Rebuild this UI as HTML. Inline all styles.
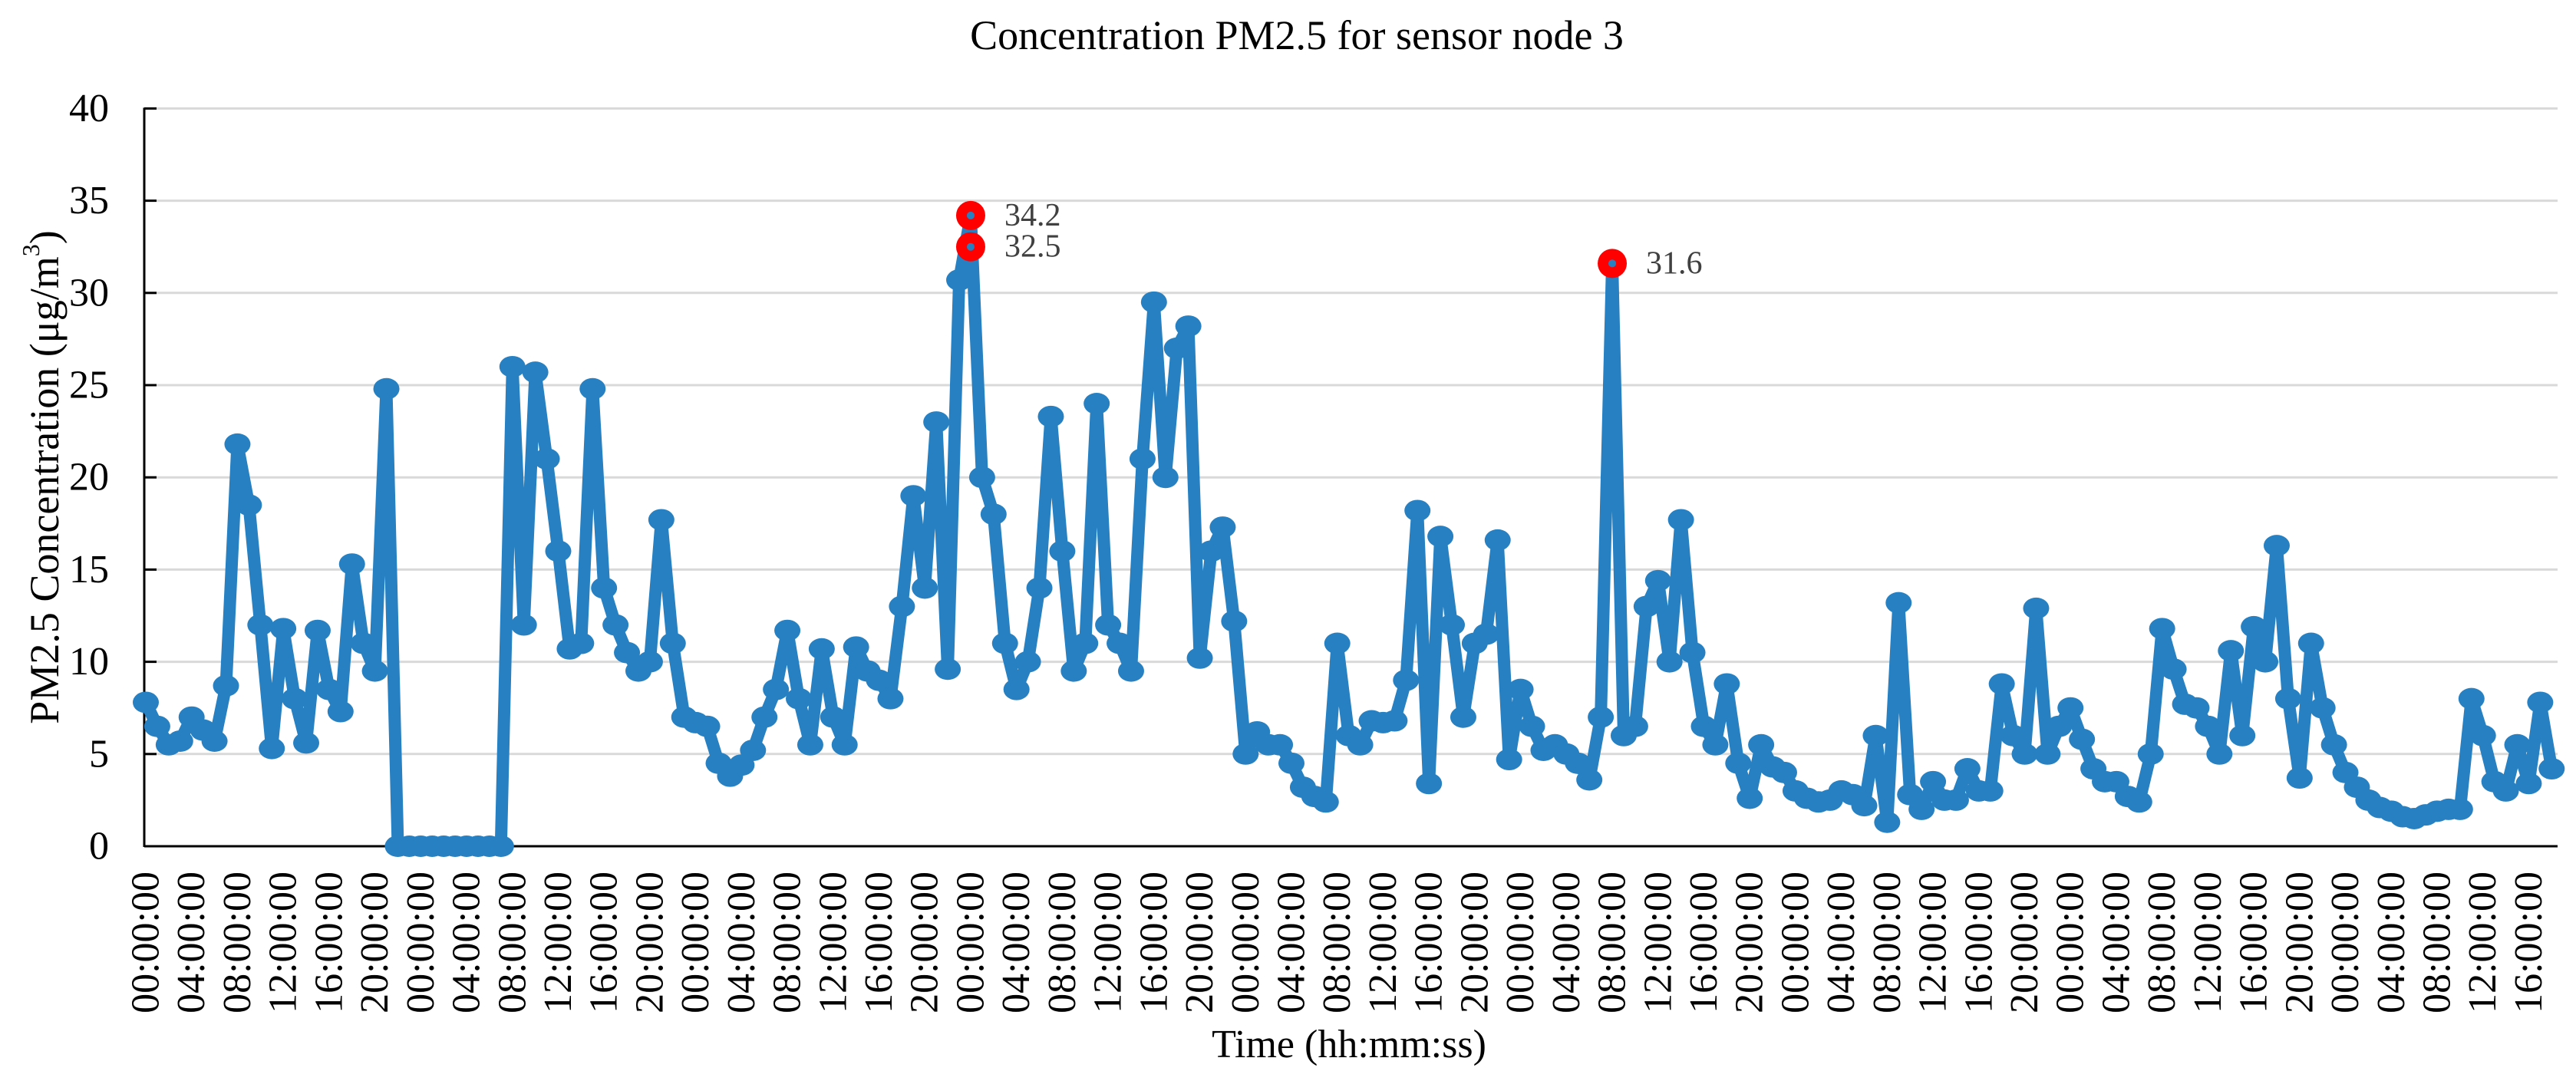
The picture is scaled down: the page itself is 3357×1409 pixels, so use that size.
<!DOCTYPE html>
<html><head><meta charset="utf-8"><style>
html,body{margin:0;padding:0;background:#fff;}
svg{display:block;font-family:"Liberation Serif",serif;}
</style></head><body>
<svg id="chart" width="3357" height="1409" viewBox="0 0 3357 1409" xmlns="http://www.w3.org/2000/svg">
<text x="1690" y="64" font-size="54" text-anchor="middle" fill="#000">Concentration PM2.5 for sensor node 3</text>
<g id="grid"></g>
<g id="yaxis"></g>
<g id="xaxis"></g>
<g id="series"></g>
<g id="highlights"></g>
<text transform="translate(58,622) rotate(-90)" font-size="54" text-anchor="middle" dominant-baseline="central" fill="#000">PM2.5 Concentration (μg/m<tspan baseline-shift="super" font-size="32">3</tspan>)</text>
<text x="1758" y="1378" font-size="52" text-anchor="middle" fill="#000">Time (hh:mm:ss)</text>
</svg>
<script>
const values = [7.8,6.5,5.5,5.7,7.0,6.3,5.7,8.7,21.8,18.5,12.0,5.3,11.8,8.0,5.6,11.7,8.5,7.3,15.3,11.0,9.5,24.8,0,0,0,0,0,0,0,0,0,0,26.0,12.0,25.7,21.0,16.0,10.7,11.0,24.8,14.0,12.0,10.5,9.5,10.0,17.7,11.0,7.0,6.7,6.5,4.5,3.8,4.4,5.2,7.0,8.5,11.7,8.0,5.5,10.7,7.0,5.5,10.8,9.5,9.0,8.0,13.0,19.0,14.0,23.0,9.6,30.7,34.2,20.0,18.0,11.0,8.5,10.0,14.0,23.3,16.0,9.5,11.0,24.0,12.0,11.0,9.5,21.0,29.5,20.0,27.0,28.2,10.2,16.0,17.3,12.2,5.0,6.2,5.5,5.5,4.5,3.2,2.7,2.4,11.0,6.0,5.5,6.8,6.7,6.8,9.0,18.2,3.4,16.8,12.0,7.0,11.0,11.5,16.6,4.7,8.5,6.5,5.2,5.5,5.0,4.5,3.6,7.0,31.6,6.0,6.5,13.0,14.4,10.0,17.7,10.5,6.5,5.5,8.8,4.5,2.6,5.5,4.3,4.0,3.0,2.6,2.4,2.5,3.0,2.8,2.2,6.0,1.3,13.2,2.8,2.0,3.5,2.5,2.5,4.2,3.0,3.0,8.8,6.0,5.0,12.9,5.0,6.5,7.5,5.8,4.2,3.5,3.5,2.7,2.4,5.0,11.8,9.6,7.7,7.5,6.5,5.0,10.6,6.0,11.9,10.0,16.3,8.0,3.7,11.0,7.5,5.5,4.0,3.2,2.5,2.1,1.9,1.6,1.5,1.7,1.9,2.0,2.0,8.0,6.0,3.5,3.0,5.5,3.4,7.8,4.2];
const yTicks = [0,5,10,15,20,25,30,35,40];
const xTickLabels = ["00:00:00","04:00:00","08:00:00","12:00:00","16:00:00","20:00:00"];
const xTickEvery = 4;
const highlightIndex = [72,72,128];
const highlightValue = [34.2,32.5,31.6];
const highlightLabel = ["34.2","32.5","31.6"];

const NS = "http://www.w3.org/2000/svg";
const X0 = 190, DX = 14.93, Y0 = 1103, PPU = 24.04, LEFT = 188, RIGHT = 3333;
function xs(i){ return X0 + i*DX; }
function ys(v){ return Y0 - v*PPU; }
function mk(tag, attrs, parent){ const e=document.createElementNS(NS,tag); for(const k in attrs) e.setAttribute(k,attrs[k]); parent.appendChild(e); return e; }

const grid=document.getElementById('grid'), yaxis=document.getElementById('yaxis'), xaxis=document.getElementById('xaxis');
yTicks.forEach(t=>{
  if(t>0){
    const g=mk('line',{x1:LEFT,x2:RIGHT,y1:ys(t),y2:ys(t),stroke:'#d9d9d9','stroke-width':3},grid);
    
    
  }
  const tk=mk('line',{x1:LEFT,x2:LEFT+16,y1:ys(t),y2:ys(t),stroke:'#000','stroke-width':3},yaxis);
  
  
  const lb=mk('text',{x:142,y:ys(t),'font-size':52,'text-anchor':'end','dominant-baseline':'central',fill:'#000'},yaxis);
  lb.textContent=t;
  
  
});
const yl=mk('line',{x1:LEFT,x2:LEFT,y1:ys(40)-1,y2:Y0+1,stroke:'#000','stroke-width':3},yaxis);


const xl=mk('line',{x1:LEFT,x2:RIGHT,y1:Y0,y2:Y0,stroke:'#000','stroke-width':3},xaxis);


for(let i=0,k=0;i<values.length;i+=xTickEvery,k++){
  const x=xs(i);
  const t=mk('text',{transform:`translate(${x},1136) rotate(-90)`,'font-size':52,'text-anchor':'end','dominant-baseline':'central',fill:'#000'},xaxis);
  t.textContent=xTickLabels[k%xTickLabels.length];
  
  
}

const series=document.getElementById('series');
const pts=values.map((v,i)=>xs(i).toFixed(1)+','+ys(v).toFixed(1)).join(' ');
const pl=mk('polyline',{points:pts,fill:'none',stroke:'#2680c2','stroke-width':16,'stroke-linejoin':'round','stroke-linecap':'round'},series);


values.forEach((v,i)=>{
  const c=mk('ellipse',{cx:xs(i),cy:ys(v),rx:17,ry:14,fill:'#2680c2'},series);
  
  
});

const hl=document.getElementById('highlights');
highlightIndex.forEach((idx,k)=>{
  const x=xs(idx), y=ys(highlightValue[k]);
  const r=mk('circle',{cx:x,cy:y,r:19,fill:'#ff0000'},hl);
  
  
  const d=mk('circle',{cx:x,cy:y,r:5,fill:'#2680c2'},hl);
  
  
  const t=mk('text',{x:x+44,y:y,'font-size':42,'dominant-baseline':'central',fill:'#404040'},hl);
  t.textContent=highlightLabel[k];
  
  
});
</script>
</body></html>
